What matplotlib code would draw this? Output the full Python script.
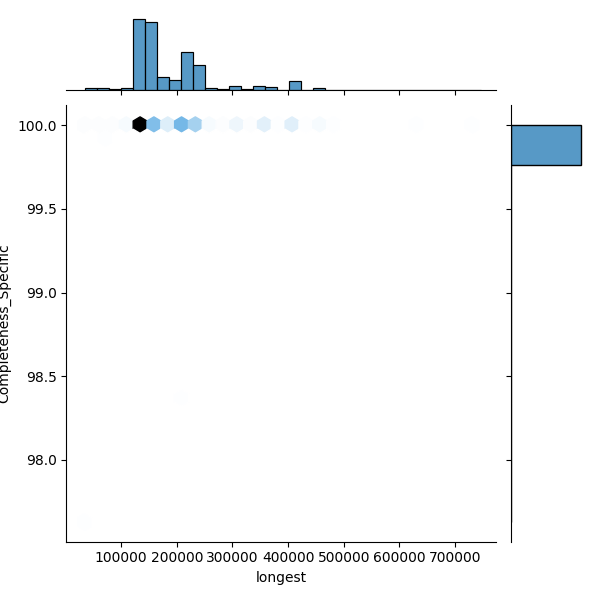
import numpy as np
import pandas as pd
import matplotlib
matplotlib.use("Agg")
import matplotlib.pyplot as plt
import seaborn as sns

longest_vals = [45000, 67000, 88000, 110000, 132000, 146000, 158000, 170000, 196000, 215000,
                240000, 261000, 283000, 304000, 326000, 347000, 369000, 391000, 412000, 434000,
                455000, 477000, 640000, 730000]
counts = [2, 2, 2, 4, 106, 70, 31, 20, 14, 56, 37, 4, 2, 7, 2, 7, 5, 1, 13, 1, 4, 1, 1, 1]
# outlier points (longest, completeness)
out_x = [70000, 205000, 34600]
out_y = [99.93, 98.35, 97.63]

xs, ys = [], []
for v, c in zip(longest_vals, counts):
    xs += [v] * c
    ys += [100.0] * c
xs += out_x
ys += out_y
df = pd.DataFrame({"longest": xs, "Completeness_Specific": ys})

g = sns.jointplot(data=df, x="longest", y="Completeness_Specific", kind="hex", height=6,
                  joint_kws=dict(gridsize=28))
g.ax_marg_x.cla()
g.ax_marg_y.cla()
xbins = np.linspace(34600, 34600 + 33 * 21600, 34)
ybins = np.linspace(min(ys), 100.0, 11)
sns.histplot(x=df["longest"], ax=g.ax_marg_x, bins=xbins)
sns.histplot(y=df["Completeness_Specific"], ax=g.ax_marg_y, bins=ybins)
for ax in (g.ax_marg_x, g.ax_marg_y):
    ax.set_xlabel("")
    ax.set_ylabel("")
g.ax_marg_x.tick_params(labelbottom=False, labelleft=False, left=False)
g.ax_marg_y.tick_params(labelleft=False, labelbottom=False, bottom=False)
sns.despine(ax=g.ax_marg_x, left=True)
sns.despine(ax=g.ax_marg_y, bottom=True)
g.ax_joint.set_xlim(1500, 774000)
g.ax_joint.set_xticks([100000, 200000, 300000, 400000, 500000, 600000, 700000])
g.figure.savefig("out.png", dpi=100)
